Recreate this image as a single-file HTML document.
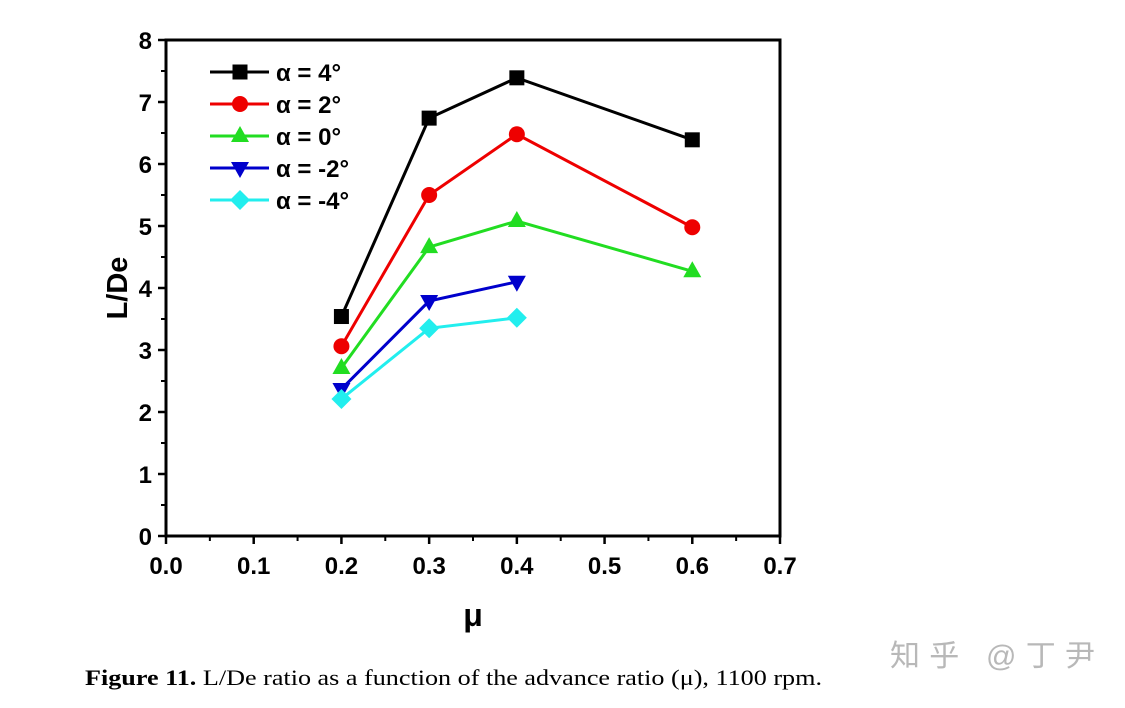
<!DOCTYPE html>
<html><head><meta charset="utf-8"><style>
body{margin:0;background:#fff;width:1125px;height:703px;overflow:hidden}
svg text{font-family:"Liberation Sans",Arial,sans-serif;font-weight:bold}
</style></head><body>
<svg id="chart" width="1125" height="703" xmlns="http://www.w3.org/2000/svg">
<g id="plot"></g>
<text transform="translate(127,288) rotate(-90)" text-anchor="middle" font-size="29">L/De</text>
<text x="473" y="626" text-anchor="middle" font-size="32">μ</text>
<text x="85" y="685" font-size="22" textLength="737" lengthAdjust="spacingAndGlyphs" style="font-family:'Liberation Serif',serif;font-weight:normal"><tspan font-weight="bold">Figure 11.</tspan> L/De ratio as a function of the advance ratio (μ), 1100 rpm.</text>
<text x="890" y="666" font-size="30" textLength="205" fill="#b8b8b8" style="font-family:'Liberation Sans','Noto Sans CJK SC',sans-serif;font-weight:normal">知乎 @丁尹</text>
</svg>
<script>
const xTicks=[0,0.1,0.2,0.3,0.4,0.5,0.6,0.7];
const yTicks=[0,1,2,3,4,5,6,7,8];
const xs=[0.2,0.3,0.4,0.6];
const s4=[3.54,6.74,7.39,6.39];
const s2=[3.06,5.5,6.48,4.98];
const s0=[2.71,4.66,5.08,4.27];
const sm2=[2.37,3.79,4.1];
const sm4=[2.21,3.35,3.52];
const labels=["α = 4°","α = 2°","α = 0°","α = -2°","α = -4°"];
const series=[s4,s2,s0,sm2,sm4];
const colors=["#000","#e00","#2d2","#00c","#2ee"];
const shapes=["square","circle","tri","dtri","diamond"];
const X0=166,X1=780,Y0=536,Y1=40;
const sx=v=>X0+(v-0)/0.7*(X1-X0);
const sy=v=>Y0-(v/8)*(Y0-Y1);
const NS="http://www.w3.org/2000/svg";
const g=document.getElementById('plot');
function mk(t,a,p){const e=document.createElementNS(NS,t);for(const k in a)e.setAttribute(k,a[k]);(p||g).appendChild(e);return e;}
function marker(shape,x,y,c){
 let e;
 if(shape==="square")e=mk('rect',{x:x-7.5,y:y-7.5,width:15,height:15,fill:c});
 else if(shape==="circle")e=mk('circle',{cx:x,cy:y,r:8,fill:c});
 else if(shape==="tri")e=mk('polygon',{points:`${x},${y-10} ${x+9},${y+6} ${x-9},${y+6}`,fill:c});
 else if(shape==="dtri")e=mk('polygon',{points:`${x},${y+10} ${x+9},${y-6} ${x-9},${y-6}`,fill:c});
 else e=mk('polygon',{points:`${x},${y-10} ${x+10},${y} ${x},${y+10} ${x-10},${y}`,fill:c});
 return e;
}
const fr=mk('rect',{x:X0,y:Y1,width:X1-X0,height:Y0-Y1,fill:"none",stroke:"#000","stroke-width":3});


xTicks.forEach((t,i)=>{
 const x=sx(t);
 mk('line',{x1:x,y1:Y0,x2:x,y2:Y0+8,stroke:"#000","stroke-width":2.5});
 if(i<xTicks.length-1)mk('line',{x1:sx(t+0.05),y1:Y0,x2:sx(t+0.05),y2:Y0+5,stroke:"#000","stroke-width":2});
 const tx=mk('text',{x:x,y:Y0+38,"text-anchor":"middle","font-size":24});
 tx.textContent=t.toFixed(1);
 
 
});
yTicks.forEach((t,i)=>{
 const y=sy(t);
 mk('line',{x1:X0,y1:y,x2:X0-8,y2:y,stroke:"#000","stroke-width":2.5});
 if(i<yTicks.length-1)mk('line',{x1:X0,y1:sy(t+0.5),x2:X0-5,y2:sy(t+0.5),stroke:"#000","stroke-width":2});
 const tx=mk('text',{x:X0-14,y:y+9,"text-anchor":"end","font-size":24});
 tx.textContent=t;
 
 
});
series.forEach((s,k)=>{
 const pts=s.map((v,i)=>sx(xs[i])+","+sy(v)).join(" ");
 const l=mk('polyline',{points:pts,fill:"none",stroke:colors[k],"stroke-width":3});
 
 
 s.forEach((v,i)=>{
  const m=marker(shapes[k],sx(xs[i]),sy(v),colors[k]);
  
  
 });
 const ly=72+k*32;
 const ll=mk('line',{x1:210,y1:ly,x2:269,y2:ly,stroke:colors[k],"stroke-width":3});
 
 
 marker(shapes[k],240,ly,colors[k]);
 const lt=mk('text',{x:276,y:ly+9,"font-size":24});
 lt.textContent=labels[k];
 
 
});
</script>
</body></html>
